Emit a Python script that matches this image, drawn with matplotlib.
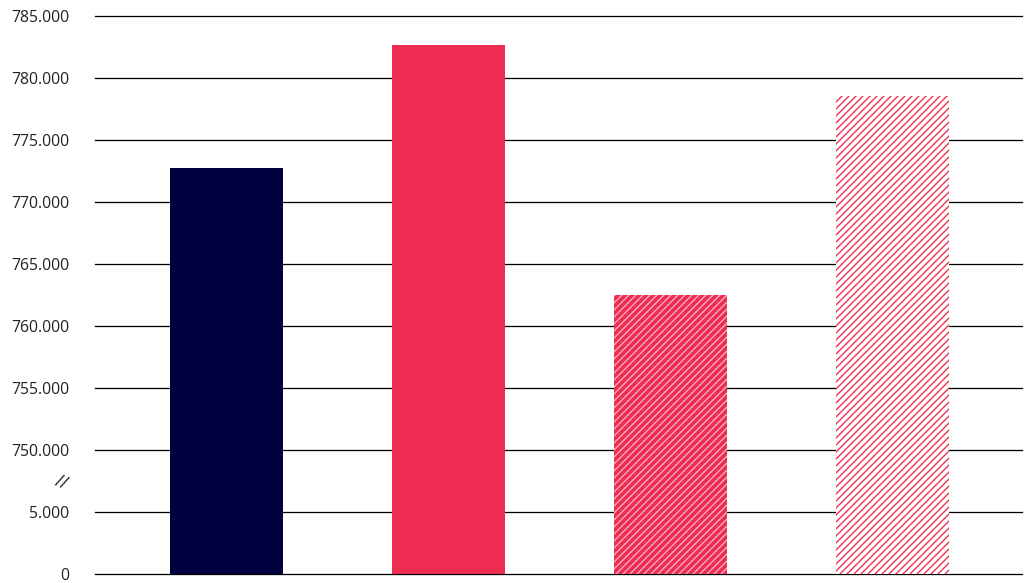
import numpy as np
import matplotlib.pyplot as plt

# Data
categories = ["A", "B", "C", "D"]
values = [772750, 782650, 762500, 778550]
tick_values = [0, 5000, 750000, 755000, 760000, 765000, 770000, 775000, 780000, 785000]
tick_labels = ["0", "5.000", "750.000", "755.000", "760.000", "765.000",
               "770.000", "775.000", "780.000", "785.000"]

DPI = 84
plt.rcParams['font.family'] = ['Open Sans', 'DejaVu Sans']
plt.rcParams['hatch.linewidth'] = 1.15


# broken y axis: 0..5.000 and 750.000..785.000 get the same step per 5.000
def fwd(v):
    v = np.asarray(v, dtype=float)
    return np.where(v <= 5000, v / 5000,
                    np.where(v >= 750000, 2 + (v - 750000) / 5000,
                             1 + (v - 5000) / 745000))


def inv(t):
    t = np.asarray(t, dtype=float)
    return np.where(t <= 1, t * 5000,
                    np.where(t >= 2, 750000 + (t - 2) * 5000,
                             5000 + (t - 1) * 745000))


fig = plt.figure(figsize=(1035 / DPI, 583 / DPI), dpi=DPI)
ax = fig.add_axes([95 / 1035, 9 / 583, (1022 - 95) / 1035, (574 - 16) / 583])
ax.set_yscale('function', functions=(fwd, inv))

red = "#EE2B51"
x = np.arange(len(categories))
styles = [
    dict(color="#00003F"),
    dict(color=red),
    dict(facecolor=red, edgecolor="#F8B3C3", hatch="////", linewidth=0),
    dict(facecolor="white", edgecolor=red, hatch="////", linewidth=0),
]
for xi, v, st in zip(x, values, styles):
    ax.bar(xi, v, width=0.51, zorder=3, **st)

ax.set_ylim(0, 785000)
ax.set_xlim(-0.592, 3.583)
ax.set_yticks(tick_values)
ax.set_yticklabels(tick_labels)
ax.set_xticks([])
ax.tick_params(axis='y', length=0, pad=22, labelsize=13.5, labelcolor="#222222")
ax.grid(axis='y', color='black', linewidth=1.1, zorder=0)
for gl in ax.get_ygridlines():
    gl.set_clip_on(False)
ax.set_axisbelow(True)
for s in ax.spines.values():
    s.set_visible(False)

# break marker between 5.000 and 750.000
ax.text(-0.026, inv(1.47), "//", transform=ax.get_yaxis_transform(),
        ha='right', va='center', fontsize=15, color="#222222", rotation=-22)

plt.savefig("out.png", dpi=DPI)
